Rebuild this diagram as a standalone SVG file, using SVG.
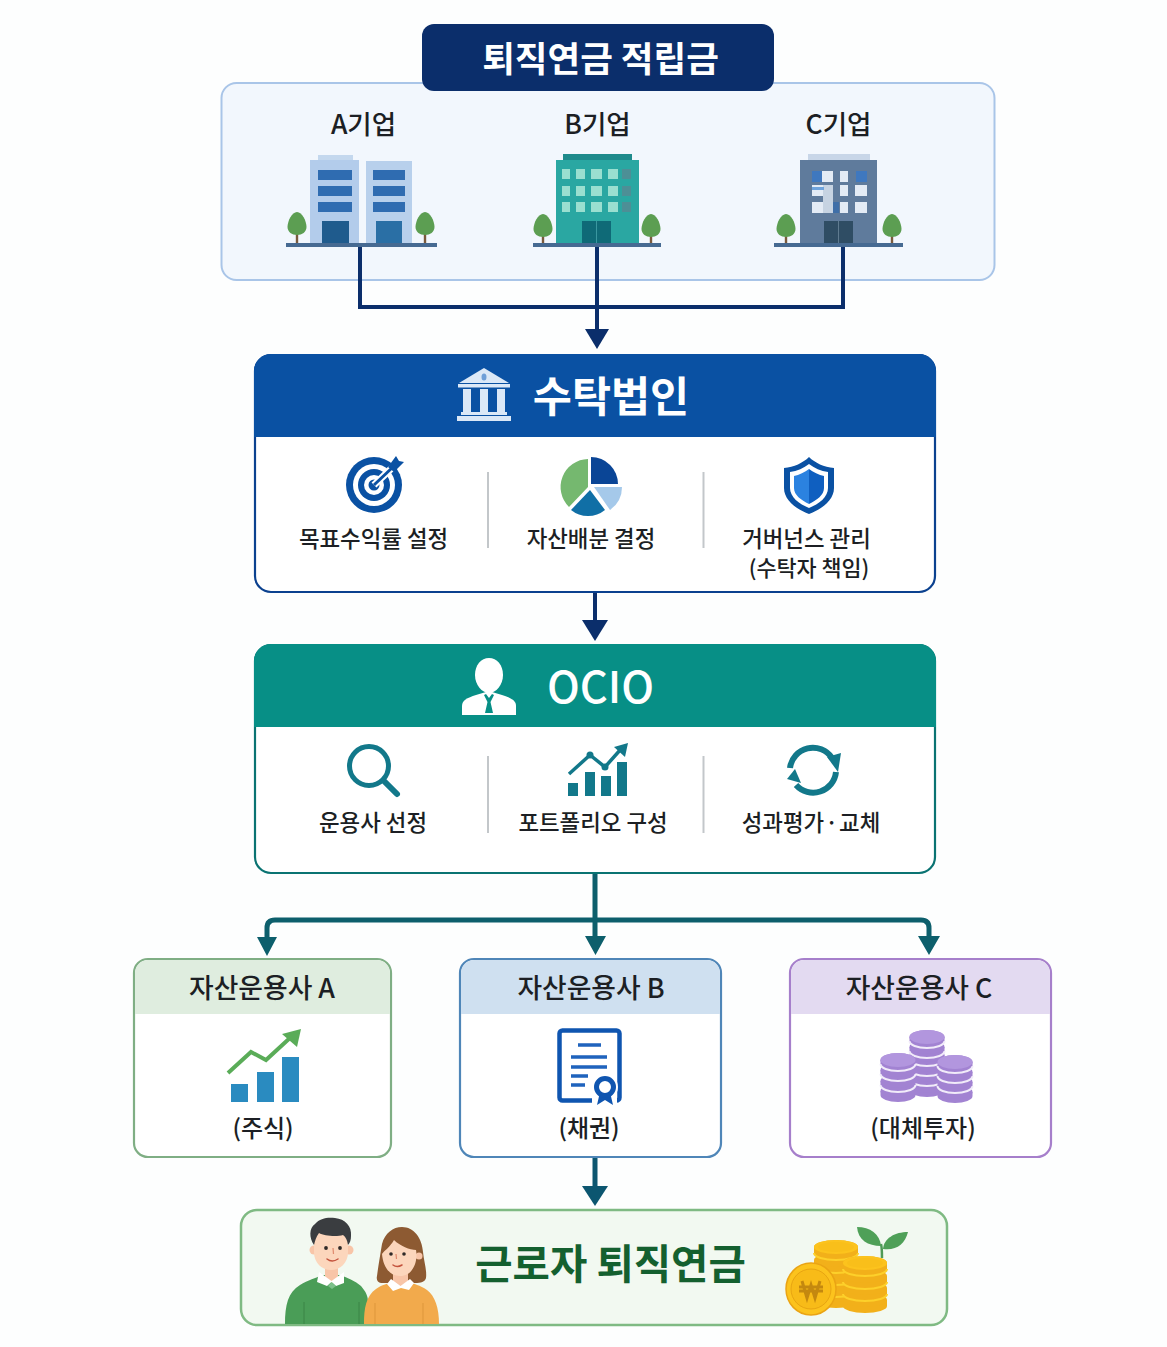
<svg xmlns="http://www.w3.org/2000/svg" width="1167" height="1347" viewBox="0 0 1167 1347">
<style>
text{font-family:"Noto Sans CJK KR","Noto Sans",sans-serif;text-anchor:middle;fill:#1c1f24;font-weight:500}
.co{font-size:26.5px}
.item{font-size:22.4px}
.mgr{font-size:26.8px}
.sub{font-size:24px}
.panel{fill:#fff;stroke-width:2.2}
.div{stroke:#c3c7ca;stroke-width:2}
.flow{fill:none;stroke-linejoin:miter}
.teal{fill:#12788a}
.base{fill:#466a92}
.skin{fill:#fcd6bc}
.eye{fill:#2f2a28}
.smile{fill:none;stroke:#c4533d;stroke-width:1.5;stroke-linecap:round}
.nose{fill:none;stroke:#e08a6e;stroke-width:1.2}
</style>
<defs>
<g id="tree">
<rect x="-1.200" y="8" width="2.400" height="13" fill="#7a5a3c"/>
<path d="M0-12C5-12 9.500-3 9.500 3C9.500 8 5 11 0 11C-5 11-9.500 8-9.500 3C-9.500-3-5-12 0-12Z" fill="#5c9e52"/>
</g>
<g id="pdisc">
<path d="M-17.500 0V4A17.500 7 0 0 0 17.500 4V0Z" fill="#a283d2"/>
<ellipse rx="17.500" ry="7" fill="#a283d2"/>
</g>
<path id="pline" d="M-17.500 4A17.500 7 0 0 0 17.500 4" fill="none" stroke="#f1ebf9" stroke-width="2"/>
<ellipse id="ptop" rx="17.500" ry="7" fill="#b296de"/>
<g id="gdisc">
<path d="M-22 0V6A22 7 0 0 0 22 6V0Z" fill="#f2b01a"/>
<ellipse rx="22" ry="7" fill="#f2b01a"/>
</g>
<path id="gline" d="M-22 6A22 7 0 0 0 22 6" fill="none" stroke="#fdd02a" stroke-width="2"/>
<g id="gtop">
<ellipse rx="22" ry="7" fill="#fcc31d"/>
<ellipse rx="18" ry="5" fill="#f9bf1a"/>
</g>
</defs>

<rect width="1167" height="1347" fill="#fdfefe"/>

<g id="sources">
<rect x="221.500" y="83" width="773" height="197" rx="15" fill="#f2f7fd" stroke="#a9c5e8" stroke-width="2"/>
<text class="co" x="363.500" y="134">A기업</text>
<text class="co" x="597.500" y="134">B기업</text>
<text class="co" x="838.500" y="134">C기업</text>
<rect x="422" y="24" width="352" height="67" rx="12" fill="#0b2e6b"/>
<text x="600.500" y="71.500" font-size="35.500" style="fill:#fff;font-weight:700">퇴직연금 적립금</text>
</g>

<g id="building-a">
<rect x="318" y="155" width="35" height="6" fill="#c4d8ee"/>
<rect x="310" y="160" width="49" height="83" fill="#b3cceb"/>
<rect x="366" y="161" width="46" height="82" fill="#b8d0ec"/>
<g fill="#2f6cb1">
<rect x="318" y="170" width="34" height="10"/><rect x="318" y="186" width="34" height="10"/><rect x="318" y="202" width="34" height="10"/>
<rect x="373" y="170" width="32" height="10"/><rect x="373" y="186" width="32" height="10"/><rect x="373" y="202" width="32" height="10"/>
</g>
<rect x="322" y="221" width="27" height="22" fill="#1f5b8d"/>
<rect x="376" y="221" width="26" height="22" fill="#2a6fa5"/>
<use href="#tree" x="297" y="224"/><use href="#tree" x="425" y="224"/>
<rect x="286" y="243" width="151" height="4" class="base"/>
</g>

<g id="building-b">
<rect x="563" y="154" width="69" height="7" fill="#1f8b8c"/>
<rect x="556" y="160" width="83" height="83" fill="#2aa7a2"/>
<g fill="#9adfd0">
<rect x="562" y="169" width="8" height="10"/><rect x="576" y="169" width="9" height="10"/><rect x="591" y="169" width="11" height="10"/><rect x="608" y="169" width="10" height="10"/>
<rect x="562" y="186" width="8" height="10"/><rect x="576" y="186" width="9" height="10"/><rect x="591" y="186" width="11" height="10"/><rect x="608" y="186" width="10" height="10"/>
<rect x="562" y="202" width="8" height="10"/><rect x="576" y="202" width="9" height="10"/><rect x="591" y="202" width="11" height="10"/><rect x="608" y="202" width="10" height="10"/>
</g>
<g fill="#4d8f96">
<rect x="622" y="169" width="9" height="10"/><rect x="622" y="186" width="9" height="10"/><rect x="622" y="202" width="9" height="10"/>
</g>
<rect x="582" y="221" width="29" height="22" fill="#0f6a77"/>
<rect x="596" y="221" width="1" height="22" fill="#3a97a0"/>
<use href="#tree" x="543" y="226"/><use href="#tree" x="651" y="226"/>
<rect x="533" y="243" width="128" height="4" class="base"/>
</g>

<g id="building-c">
<rect x="808" y="154" width="62" height="6" fill="#c8d6e8"/>
<rect x="800" y="160" width="77" height="83" fill="#5f7b9c"/>
<rect x="812" y="171" width="10" height="11" fill="#3f78bf"/>
<rect x="856" y="171" width="11" height="11" fill="#3f78bf"/>
<rect x="833" y="202" width="6" height="11" fill="#3f6fa8"/>
<g fill="#e3ebf5">
<rect x="822" y="171" width="11" height="11"/><rect x="840" y="171" width="8" height="11"/>
<rect x="812" y="185" width="11" height="11"/><rect x="840" y="185" width="8" height="11"/><rect x="855" y="185" width="12" height="11"/>
<rect x="812" y="202" width="11" height="11"/><rect x="840" y="202" width="8" height="11"/><rect x="855" y="202" width="12" height="11"/>
</g>
<rect x="823" y="185" width="10" height="28" fill="#c6d3e2"/>
<rect x="812" y="187" width="12" height="3" fill="#6ea3dc"/>
<rect x="824" y="221" width="29" height="22" fill="#2f4d64"/>
<rect x="838" y="221" width="1" height="22" fill="#5f7b90"/>
<use href="#tree" x="786" y="226"/><use href="#tree" x="892" y="226"/>
<rect x="774" y="243" width="129" height="4" class="base"/>
</g>

<g id="trustee">
<rect x="255" y="355" width="680" height="237" rx="16" class="panel" stroke="#0b418f"/>
<path d="M254 437V371A17 17 0 0 1 271 354H919A17 17 0 0 1 936 371V437Z" fill="#0a51a3"/>
<g fill="#dbe8f7">
<path d="M484 368L509 383H459Z"/><rect x="458" y="384" width="52" height="3.500"/>
<rect x="463" y="389" width="8" height="23"/><rect x="480" y="389" width="8" height="23"/><rect x="497" y="389" width="8" height="23"/>
<rect x="461" y="412" width="46" height="3"/><rect x="457" y="416" width="54" height="5"/>
</g>
<ellipse cx="484" cy="377" rx="2.500" ry="3.500" fill="#6f9fd8"/>
<text x="611" y="412" font-size="42.500" style="fill:#fff;font-weight:700">수탁법인</text>

<g id="icon-target">
<circle cx="374" cy="485" r="28" fill="#0a51a3"/><circle cx="374" cy="485" r="21" fill="#fff"/>
<circle cx="374" cy="485" r="16" fill="#0a51a3"/><circle cx="374" cy="485" r="10" fill="#fff"/><circle cx="374" cy="485" r="5.500" fill="#0a51a3"/>
<path d="M374 485L394 466" stroke="#fff" stroke-width="7"/>
<path d="M374 485L394 466" stroke="#0a51a3" stroke-width="3"/>
<path d="M388 467L396 456L399 461L404 462L394 472Z" fill="#0a51a3"/>
</g>
<text class="item" x="373.500" y="547">목표수익률 설정</text>
<line class="div" x1="488" y1="472" x2="488" y2="548"/>

<g id="icon-pie">
<path d="M588 487L588 459A28 28 0 0 0 569 507Z" fill="#75b86f"/>
<path d="M590 490L605 510A27 27 0 0 1 571 510Z" fill="#106fa6"/>
<path d="M591 457A27 27 0 0 1 618 484H591Z" fill="#0a4596"/>
<path d="M594 487H622A28 28 0 0 1 610 510Z" fill="#a5c9ea"/>
</g>
<text class="item" x="591" y="547">자산배분 결정</text>
<line class="div" x1="703.500" y1="472" x2="703.500" y2="548"/>

<g id="icon-shield">
<path d="M809 457C815 463 824 467 834 468V488C834 500 822 509 809 514C796 509 784 500 784 488V468C794 467 803 463 809 457Z" fill="#0a51a3"/>
<path d="M809 464C814 468 821 471 828 472V488C828 497 819 504 809 508C799 504 790 497 790 488V472C797 471 804 468 809 464Z" fill="#fff"/>
<path d="M809 469C813 472 819 475 824 476V488C824 495 817 500 809 504Z" fill="#0f5fc0"/>
<path d="M809 469C805 472 799 475 794 476V488C794 495 801 500 809 504Z" fill="#2b82e0"/>
</g>
<text class="item" x="806.500" y="547">거버넌스 관리</text>
<text class="item" x="809" y="576" style="font-size:21.8px">(수탁자 책임)</text>
</g>

<g id="ocio">
<rect x="255" y="645" width="680" height="228" rx="16" class="panel" stroke="#0a7372"/>
<path d="M254 727V661A17 17 0 0 1 271 644H919A17 17 0 0 1 936 661V727Z" fill="#078f86"/>
<g fill="#fff">
<path d="M489 658C497 658 503 665 503 675C503 685 496 693 489 693C482 693 475 685 475 675C475 665 481 658 489 658Z"/>
<path d="M462 715V706C462 700 467 698 476 695L486 692H492L502 695C511 698 516 700 516 706V715Z"/>
</g>
<path d="M486 694L489 698L492 694L494 695L490.500 702L493 713H485L487.500 702L484 695Z" fill="#078f86"/>
<text x="600.500" y="702.500" font-size="43.500" style="fill:#fff;font-weight:500">OCIO</text>

<g id="icon-search">
<circle cx="369" cy="766" r="19.500" fill="none" stroke="#12788a" stroke-width="5"/>
<path d="M384 781L397 794" stroke="#12788a" stroke-width="6" stroke-linecap="round"/>
</g>
<text class="item" x="373" y="831">운용사 선정</text>
<line class="div" x1="488" y1="756" x2="488" y2="833"/>

<g id="icon-growth">
<rect x="568" y="783" width="10" height="13" class="teal"/><rect x="585" y="772" width="10" height="24" class="teal"/><rect x="601" y="776" width="10" height="20" class="teal"/><rect x="617" y="762" width="10" height="34" class="teal"/>
<path d="M569 774L590 755L605 767L621 749" fill="none" stroke="#12788a" stroke-width="3.500"/>
<path d="M614 747L628 743L625 757Z" fill="#12788a"/>
<circle cx="590" cy="755" r="3.500" fill="#12788a"/><circle cx="605" cy="767" r="3.500" fill="#12788a"/>
</g>
<text class="item" x="593" y="831">포트폴리오 구성</text>
<line class="div" x1="703.500" y1="756" x2="703.500" y2="833"/>

<g id="icon-sync">
<path d="M790 768A23 23 0 0 1 832 758" fill="none" stroke="#12788a" stroke-width="6"/>
<path d="M827 757L841 753L838 772Z" fill="#12788a"/>
<path d="M836 772A23 23 0 0 1 796 785" fill="none" stroke="#12788a" stroke-width="6"/>
<path d="M787 779L795 769L801 783Z" fill="#12788a"/>
</g>
<text class="item" x="811" y="831" style="word-spacing:-4px">성과평가 · 교체</text>
</g>

<g id="manager-a">
<rect x="134" y="959" width="257" height="198" rx="14" class="panel" stroke="#7fae84"/>
<path d="M135 1014V973A13 13 0 0 1 148 960H377A13 13 0 0 1 390 973V1014Z" fill="#dfeddf"/>
<text class="mgr" x="262" y="998">자산운용사 A</text>
<rect x="231" y="1084" width="17" height="18" fill="#2a8bc0"/><rect x="257" y="1072" width="17" height="30" fill="#2a8bc0"/><rect x="282" y="1057" width="17" height="45" fill="#2a8bc0"/>
<path d="M228 1073L251 1052L266 1060L291 1037" fill="none" stroke="#5aac58" stroke-width="4"/>
<path d="M282 1034L301 1029L297 1047Z" fill="#5aac58"/>
<text class="sub" x="263" y="1137">(주식)</text>
</g>

<g id="manager-b">
<rect x="460" y="959" width="261" height="198" rx="14" class="panel" stroke="#4f86b8"/>
<path d="M461 1014V973A13 13 0 0 1 474 960H707A13 13 0 0 1 720 973V1014Z" fill="#cfe0f0"/>
<text class="mgr" x="591" y="998">자산운용사 B</text>
<rect x="559.500" y="1030.500" width="60" height="70" rx="3" fill="#fff" stroke="#0f55b0" stroke-width="4.500"/>
<path d="M578 1045H601M571 1057H607M571 1067H607M571 1076H588M571 1085H585" fill="none" stroke="#1f63bd" stroke-width="3.500"/>
<rect x="592" y="1096" width="25" height="9" fill="#fff"/>
<circle cx="605" cy="1087" r="13" fill="#fff"/>
<path d="M600 1092L597 1105L605 1100L613 1105L610 1092Z" fill="#0f55b0"/>
<circle cx="605" cy="1087" r="8.500" fill="#fff" stroke="#0f55b0" stroke-width="5"/>
<text class="sub" x="589" y="1137">(채권)</text>
</g>

<g id="manager-c">
<rect x="790" y="959" width="261" height="198" rx="14" class="panel" stroke="#a67fcb"/>
<path d="M791 1014V973A13 13 0 0 1 804 960H1037A13 13 0 0 1 1050 973V1014Z" fill="#e3daf1"/>
<text class="mgr" x="919" y="998">자산운용사 C</text>
<g id="coins-mid" transform="translate(927 0)">
<use href="#pdisc" y="1086"/><use href="#pdisc" y="1075"/><use href="#pline" y="1075"/>
<use href="#pdisc" y="1065"/><use href="#pline" y="1065"/><use href="#pdisc" y="1055"/><use href="#pline" y="1055"/>
<use href="#pdisc" y="1047"/><use href="#pline" y="1047"/><use href="#pdisc" y="1037"/><use href="#pline" y="1037"/><use href="#ptop" y="1037"/>
</g>
<g id="coins-right" transform="translate(955 0)">
<use href="#pdisc" y="1092"/><use href="#pdisc" y="1082"/><use href="#pline" y="1082"/><use href="#pdisc" y="1072"/><use href="#pline" y="1072"/><use href="#pdisc" y="1062"/><use href="#pline" y="1062"/><use href="#ptop" y="1062"/>
</g>
<g id="coins-left" transform="translate(898 0)">
<use href="#pdisc" y="1091"/><use href="#pdisc" y="1081"/><use href="#pline" y="1081"/><use href="#pdisc" y="1070"/><use href="#pline" y="1070"/><use href="#pdisc" y="1060"/><use href="#pline" y="1060"/><use href="#ptop" y="1060"/>
</g>
<text class="sub" x="923" y="1137">(대체투자)</text>
</g>

<g id="workers">
<rect x="241" y="1210" width="706" height="115" rx="16" fill="#f2f9f1" stroke="#7fba83" stroke-width="2.500"/>
<g id="man">
<path d="M285 1324C285 1305 288 1292 300 1285C308 1280 316 1278 322 1275H340C348 1278 355 1281 361 1286C366 1292 368 1296 368 1302V1324Z" fill="#4a9d57"/>
<path d="M304 1302V1324M359 1302V1324" stroke="#3a8446" stroke-width="1" fill="none"/>
<path d="M325 1262H338V1277L331.500 1283L325 1277Z" fill="#f8c5a8"/>
<path d="M319 1272L331.500 1281L344 1272L344 1283L336 1286L331.500 1282L327 1286L317 1282Z" fill="#fff"/>
<path d="M328 1286L331.500 1282L336 1286L332 1289Z" fill="#7cc08a"/>
<circle cx="314" cy="1250" r="4.500" fill="#f8c5a8"/><circle cx="349" cy="1250" r="4.500" fill="#f8c5a8"/>
<path d="M314 1240C314 1232 320 1230 331 1230C342 1230 348 1232 348 1240V1252C348 1263 340 1270 331 1270C322 1270 314 1263 314 1252Z" class="skin"/>
<path d="M314 1245C309 1238 309 1228 315 1224C320 1218 328 1217 335 1218C345 1219 352 1226 351 1236C351 1240 350 1243 348 1245C347 1240 346 1237 343 1235C337 1237 324 1236 319 1233C316 1237 315 1241 314 1245Z" fill="#3a3d40"/>
<circle cx="326" cy="1248" r="1.900" class="eye"/><circle cx="340" cy="1248" r="1.900" class="eye"/>
<path d="M333 1248L333.500 1254" class="nose"/>
<path d="M327 1259Q332 1263 338 1259" class="smile"/>
</g>
<g id="woman">
<path d="M382 1244C385 1233 393 1227 402 1227C414 1227 422 1238 423 1252C424 1262 427 1270 426 1278C425 1282 421 1283 415 1283H381C378 1283 376 1280 377 1276C378 1268 380 1256 382 1244Z" fill="#8d5a32"/>
<path d="M364 1324C364 1308 366 1296 376 1289C381 1285 387 1284 393 1282H408C414 1284 420 1285 427 1290C435 1296 439 1308 439 1324Z" fill="#f2aa4c"/>
<path d="M375 1303V1324M423 1303V1324" stroke="#dd963a" stroke-width="1" fill="none"/>
<path d="M393 1268H408V1282L400.500 1287L393 1282Z" fill="#f8c5a8"/>
<path d="M391 1279L400.500 1286L410 1279L414 1283L409 1290L401 1288L393 1291L387 1284Z" fill="#fff"/>
<circle cx="419" cy="1256" r="3.500" fill="#f8c5a8"/>
<path d="M382 1254C385 1250 390 1247 394 1240C400 1246 410 1250 416 1250C418 1260 414 1276 400 1276C389 1276 383 1266 382 1254Z" class="skin"/>
<circle cx="391" cy="1254" r="1.800" class="eye"/><circle cx="404" cy="1254" r="1.800" class="eye"/>
<path d="M396 1254L396.500 1259" class="nose"/>
<path d="M393 1265Q397 1268 402 1265" class="smile"/>
</g>
<text x="610.500" y="1279" font-size="40.600" style="fill:#14602f;font-weight:700">근로자 퇴직연금</text>
<g id="sprout">
<path d="M882 1258C882 1252 882 1248 881 1244" fill="none" stroke="#4f9a57" stroke-width="2.500"/>
<path d="M881 1246C868 1246 858 1240 857 1227C870 1227 880 1234 881 1246Z" fill="#4fa058"/>
<path d="M883 1249C884 1238 895 1232 908 1232C905 1244 896 1251 883 1249Z" fill="#4fa058"/>
</g>
<g id="coins">
<g transform="translate(836 0)">
<use href="#gdisc" y="1295"/><use href="#gdisc" y="1284"/><use href="#gline" y="1284"/><use href="#gdisc" y="1272"/><use href="#gline" y="1272"/><use href="#gdisc" y="1260"/><use href="#gline" y="1260"/><use href="#gdisc" y="1247"/><use href="#gline" y="1247"/><use href="#gtop" y="1247"/>
</g>
<g transform="translate(865 0)">
<use href="#gdisc" y="1300"/><use href="#gdisc" y="1288"/><use href="#gline" y="1288"/><use href="#gdisc" y="1276"/><use href="#gline" y="1276"/><use href="#gdisc" y="1263"/><use href="#gline" y="1263"/><use href="#gtop" y="1263"/>
</g>
<ellipse cx="811" cy="1289" rx="25" ry="26" fill="#fcc31d" stroke="#eaa414" stroke-width="1.500"/>
<ellipse cx="811" cy="1289" rx="20" ry="20" fill="#f8bb18" stroke="#e8a512" stroke-width="1"/>
<path d="M802 1281L807 1298L811 1285L815 1298L820 1281M799 1287H823M799 1291H823" fill="none" stroke="#c4880f" stroke-width="3"/>
</g>
</g>

<g id="connectors">
<path class="flow" d="M360 247V307H843V247M597 247V331" stroke="#0b2e6b" stroke-width="4"/>
<path d="M585 329H609L597 349Z" fill="#0b2e6b"/>
<path class="flow" d="M595 593V622" stroke="#0b2e6b" stroke-width="4"/>
<path d="M582 620H608L595 641Z" fill="#0b2e6b"/>
<path class="flow" d="M595 874V940M267 940V928Q267 920 275 920H921Q929 920 929 928V940" stroke="#0d5f6c" stroke-width="5"/>
<path d="M257 937H277L267 956ZM585 936H606L595.500 955ZM918 936H940L929 955Z" fill="#0d5f6c"/>
<path class="flow" d="M595 1158V1188" stroke="#0c5670" stroke-width="5"/>
<path d="M582 1186H608L595 1206Z" fill="#0c5670"/>
</g>
</svg>
